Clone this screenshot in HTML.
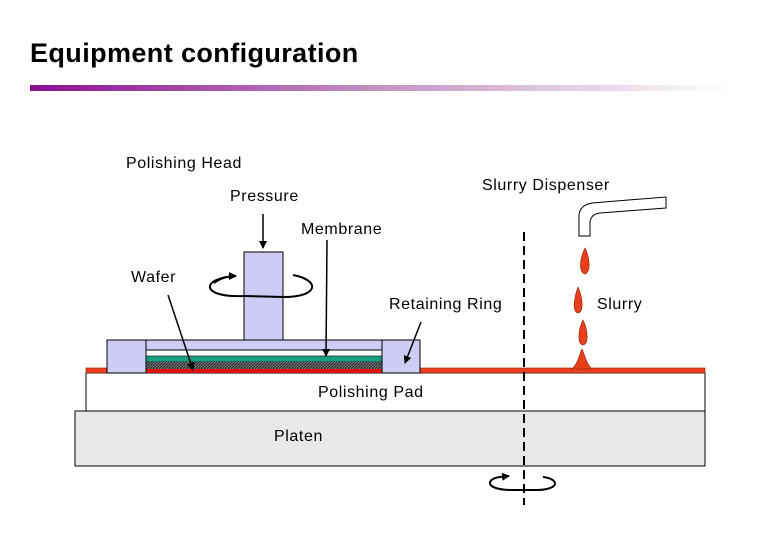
<!DOCTYPE html>
<html><head><style>
body{margin:0;background:#fff;}
svg{display:block;font-family:"Liberation Sans",sans-serif;}
</style></head><body>
<svg width="780" height="540" viewBox="0 0 780 540" xmlns="http://www.w3.org/2000/svg">
<defs>
<linearGradient id="g" x1="0" x2="1"><stop offset="0" stop-color="#8a1090"/><stop offset="0.55" stop-color="#c9a0c8"/><stop offset="1" stop-color="#fff"/></linearGradient>
<pattern id="h" width="3" height="3" patternUnits="userSpaceOnUse"><rect width="3" height="3" fill="#777"/><path d="M0 3L3 0" stroke="#222" stroke-width="1"/></pattern>
<marker id="a" markerWidth="8" markerHeight="8" refX="7" refY="4" orient="auto" markerUnits="userSpaceOnUse"><path d="M0 0L8 4L0 8z" fill="#000"/></marker>
</defs>
<text x="30" y="62" font-size="27" font-weight="bold" letter-spacing="0.4">Equipment configuration</text>
<rect x="30" y="85" width="700" height="6" fill="url(#g)"/>
<rect x="75" y="411" width="630" height="55" fill="#e8e8e8" stroke="#000"/>
<rect x="86" y="373" width="619" height="38" fill="#fff" stroke="#000"/>
<rect x="86" y="368" width="619" height="5" fill="#e8401c" stroke="#8a2000" stroke-width="0.6"/>
<rect x="244" y="252" width="39" height="88" fill="#ccccf5" stroke="#000"/>
<rect x="107" y="340" width="313" height="33" fill="#ccccf5" stroke="#000"/>
<rect x="146" y="350" width="236" height="23" fill="#fff" stroke="#000"/>
<rect x="146" y="356" width="236" height="6" fill="#1aa080" stroke="#000" stroke-width="0.6"/>
<rect x="146" y="362" width="236" height="7" fill="url(#h)"/>
<rect x="146" y="369" width="236" height="4" fill="#e01010"/>
<line x1="146" y1="340" x2="146" y2="373" stroke="#000"/>
<line x1="382" y1="340" x2="382" y2="373" stroke="#000"/>
<path d="M236 276 C200 278 200 298 244 296 M283 297 C320 297 320 280 293 275" fill="none" stroke="#000" stroke-width="2"/>
<path d="M214 283 C222 277 230 276 236 276" fill="none" stroke="#000" stroke-width="2" marker-end="url(#a)"/>
<line x1="244" y1="296" x2="283" y2="297" stroke="#000" stroke-width="2"/>
<line x1="524" y1="232" x2="524" y2="505" stroke="#000" stroke-width="2" stroke-dasharray="9,5"/>
<path d="M500 477 C485 479 485 490 512 490 L536 490 C560 490 560 479 543 477" fill="none" stroke="#000" stroke-width="2"/>
<path d="M500 477 L509 476" stroke="#000" stroke-width="2" marker-end="url(#a)"/>
<path d="M579 236 L579 215 Q580 205 592 203 L666 197 L666 208 L600 213 Q591 214 590 222 L590 236 Z" fill="#fff" stroke="#000"/>
<g fill="#e8401c" stroke="#8a2000" stroke-width="0.6">
<path d="M585 248 C580 258 578 272 585 274 C591 272 590 258 585 248Z"/>
<path d="M578 287 C574 298 572 312 578 313 C584 312 583 298 578 287Z"/>
<path d="M583 320 C578 330 577 344 583 345 C589 344 588 330 583 320Z"/>
<path d="M572 369 C578 364 580 352 582 349 C584 352 586 364 592 369Z"/>
</g>
<line x1="263" y1="214" x2="263" y2="248" stroke="#000" stroke-width="1.5" marker-end="url(#a)"/>
<line x1="327" y1="240" x2="326" y2="356" stroke="#000" stroke-width="1.5" marker-end="url(#a)"/>
<line x1="168" y1="295" x2="193" y2="370" stroke="#000" stroke-width="1.5" marker-end="url(#a)"/>
<line x1="421" y1="322" x2="405" y2="363" stroke="#000" stroke-width="1.5" marker-end="url(#a)"/>
<g font-size="16" letter-spacing="0.6">
<text x="126" y="168">Polishing Head</text>
<text x="482" y="190">Slurry Dispenser</text>
<text x="230" y="201">Pressure</text>
<text x="301" y="234">Membrane</text>
<text x="131" y="282">Wafer</text>
<text x="389" y="309">Retaining Ring</text>
<text x="597" y="309">Slurry</text>
<text x="318" y="397">Polishing Pad</text>
<text x="274" y="441">Platen</text>
</g>
</svg>
</body></html>
